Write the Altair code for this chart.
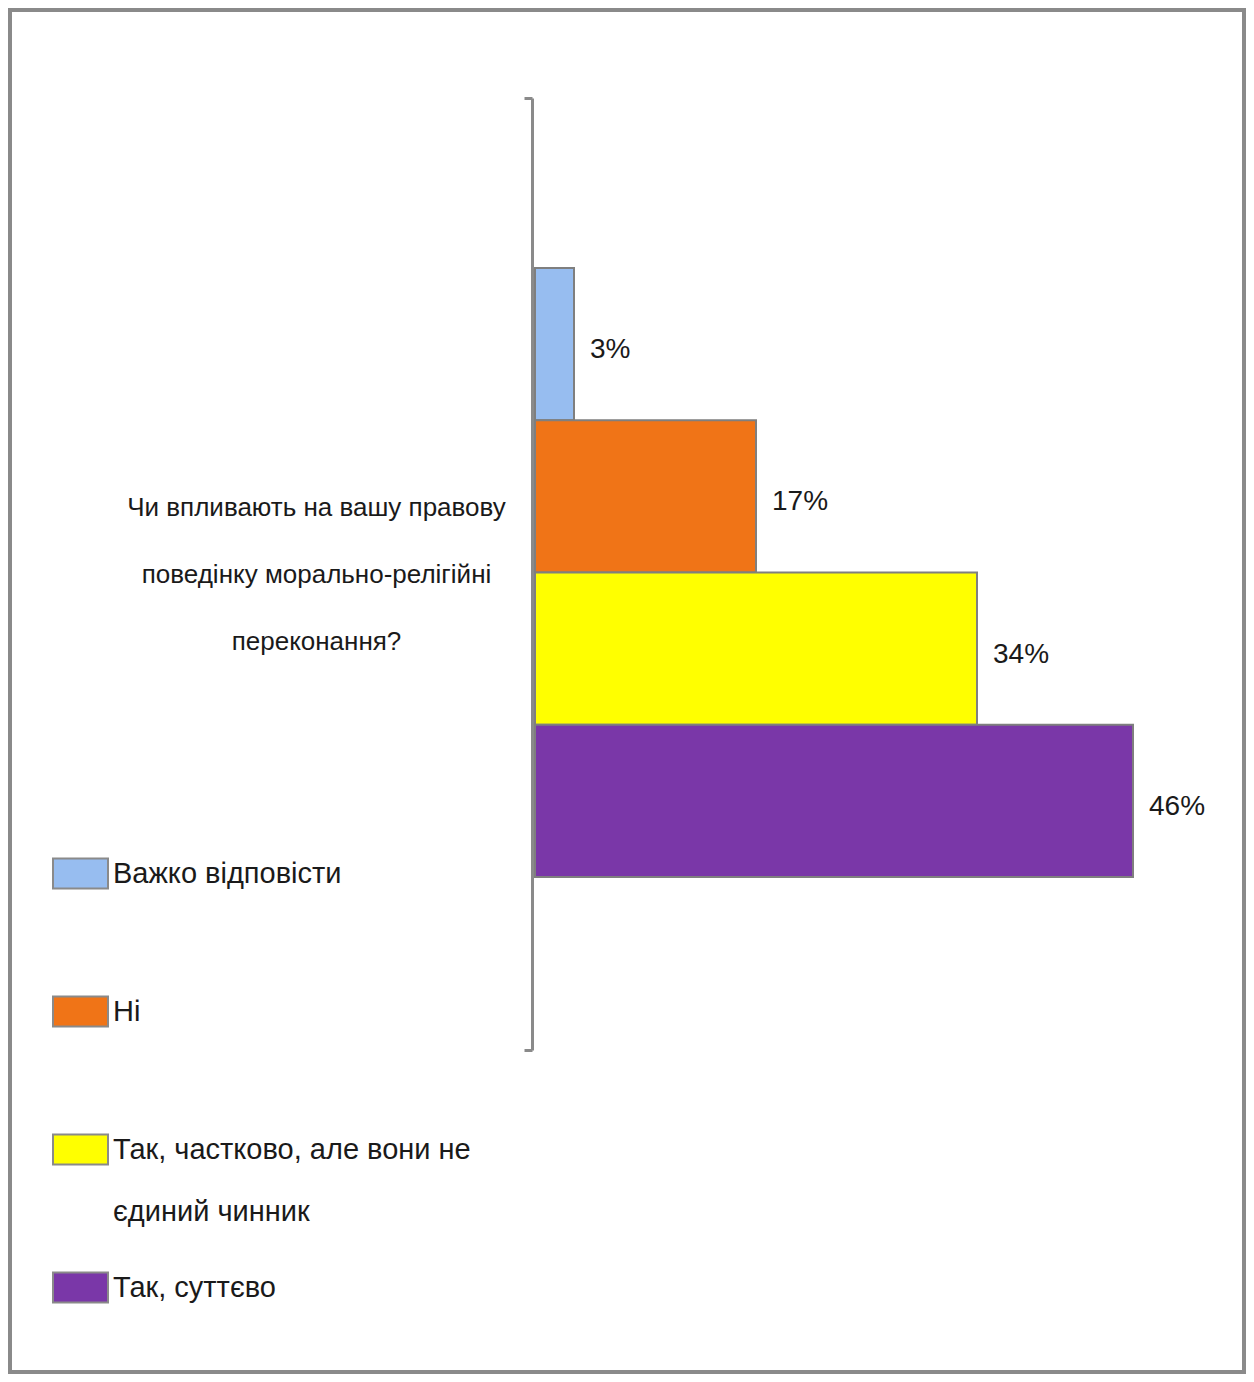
import json
import altair as alt
import pandas as pd

question = "Чи впливають на вашу правову поведінку морально-релігійні переконання?"
question_lines = ["Чи впливають на вашу правову", "поведінку морально-релігійні", "переконання?"]
answers = ["Важко відповісти", "Ні", "Так, частково, але вони не єдиний чинник", "Так, суттєво"]
values = [3, 17, 34, 46]
labels = ["3%", "17%", "34%", "46%"]
colors = ["#97BDF0", "#F07417", "#FFFF00", "#7A37A8"]
long_answer_lines = ["Так, частково, але вони не", "єдиний чинник"]

df = pd.DataFrame({
    "question": [question] * len(answers),
    "answer": answers,
    "value": values,
    "label": labels,
})

FONT = "Liberation Sans Narrow, Liberation Sans, Arial, sans-serif"
GRAY = "#8a8a8a"
BLANK = "\u2800"  # blank glyph used as an empty spacer line

def js(s):
    return json.dumps(s, ensure_ascii=False)

y_label_expr = f"datum.value == {js(question)} ? {js(question_lines)} : ''"
legend_label_expr = (
    f"datum.label == {js(answers[2])} ? "
    f"[{js(long_answer_lines[0])}, {js(BLANK)}, {js(long_answer_lines[1])}] : "
    f"[datum.label, {js(BLANK)}, {js(BLANK)}]"
)

y_enc = alt.Y(
    "question:N",
    title=None,
    scale=alt.Scale(range=[88, 1040], paddingInner=0, paddingOuter=0),
    axis=alt.Axis(
        offset=-522,
        domainColor=GRAY,
        domainWidth=3,
        ticks=True,
        tickBand="extent",
        tickColor=GRAY,
        tickWidth=3,
        tickSize=8,
        labelExpr=y_label_expr,
        labelAlign="center",
        labelBaseline="middle",
        labelPadding=208,
        labelLineHeight=67,
        labelOffset=-67,
        labelFont=FONT,
        labelFontSize=26,
        labelColor="#1a1a1a",
        labelLimit=0,
        grid=False,
    ),
)

yoff_enc = alt.YOffset(
    "answer:N",
    sort=answers,
    scale=alt.Scale(range=[170, 779], paddingInner=0, paddingOuter=0),
)

x_enc = alt.X(
    "value:Q",
    title=None,
    axis=None,
    scale=alt.Scale(domain=[0, 46], range=[525, 1123], nice=False, zero=True),
)

bars = alt.Chart(df).mark_bar(stroke="#7f7f7f", strokeWidth=2, cornerRadius=0).encode(
    x=x_enc,
    y=y_enc,
    yOffset=yoff_enc,
    color=alt.Color(
        "answer:N",
        sort=answers,
        scale=alt.Scale(domain=answers, range=colors),
        legend=alt.Legend(
            title=None,
            orient="none",
            legendX=42,
            legendY=835,
            padding=0,
            symbolType="M-1,-0.545H1V0.545H-1Z",
            symbolSize=3025,
            symbolStrokeColor=GRAY,
            symbolStrokeWidth=2,
            symbolOpacity=1,
            labelFont=FONT,
            labelFontSize=29,
            labelColor="#1a1a1a",
            labelLimit=600,
            labelOffset=4,
            labelBaseline="middle",
            labelExpr=legend_label_expr,
            rowPadding=32,
        ),
    ),
)

text = alt.Chart(df).mark_text(
    align="left", baseline="middle", dx=16, dy=6, font=FONT, fontSize=28, color="#1a1a1a"
).encode(
    x=x_enc,
    y=y_enc,
    yOffset=yoff_enc,
    text="label:N",
)

chart = alt.layer(bars, text).properties(
    width=1234,
    height=1362,
    padding=2,
    autosize=alt.AutoSizeParams(type="none"),
).configure_view(
    stroke=GRAY,
    strokeWidth=4,
)

chart.save("out.html", embed_options={"renderer": "svg", "actions": False})
